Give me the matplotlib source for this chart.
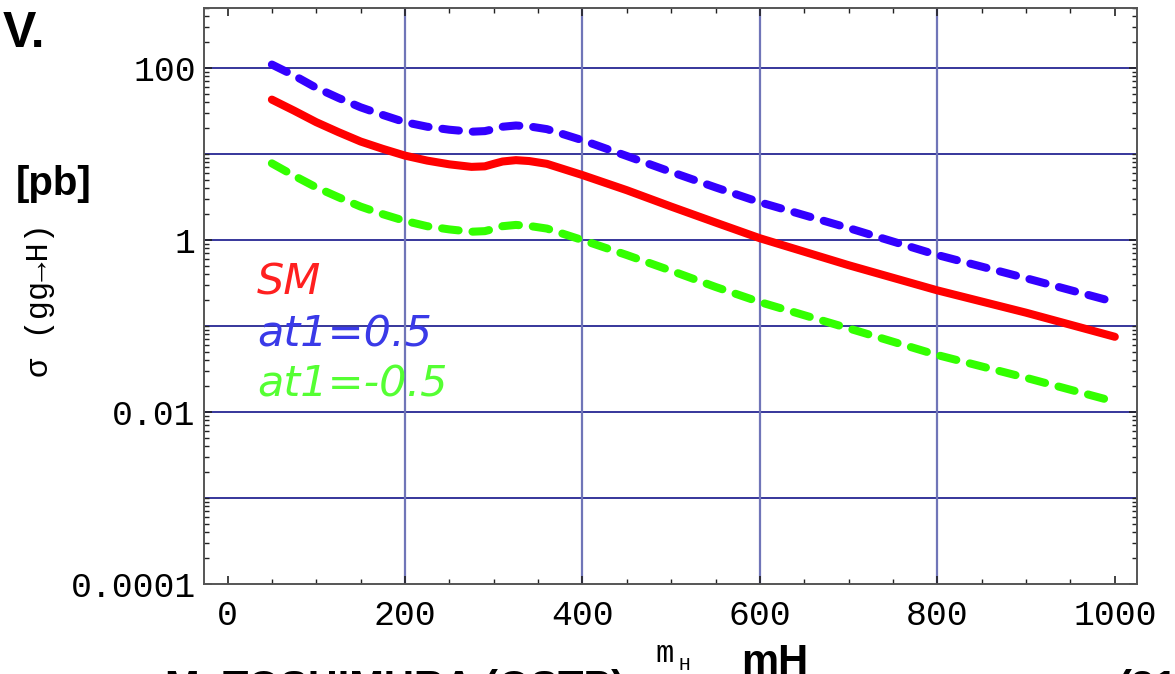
import matplotlib
matplotlib.use("Agg")
import matplotlib.pyplot as plt
from matplotlib.ticker import FixedLocator, FixedFormatter, LogLocator, NullFormatter

# m_H [GeV]
mh = [50, 75, 100, 125, 150, 175, 200, 225, 250, 275, 290, 300, 310, 325, 340, 360,
      400, 450, 500, 550, 600, 700, 800, 900, 1000]
# sigma(gg->H) [pb]
sig_sm = [43, 32, 23.5, 18, 14, 11.5, 9.6, 8.4, 7.6, 7.1, 7.2, 7.7, 8.2, 8.5, 8.3, 7.7,
          5.7, 3.8, 2.45, 1.6, 1.05, 0.51, 0.26, 0.143, 0.075]
sig_p05 = [110, 82, 59, 45, 35, 28.5, 23.5, 20.8, 19.2, 18.2, 18.5, 19.5, 20.8, 21.5, 21, 19.5,
           14.5, 9.5, 6.2, 4.1, 2.75, 1.38, 0.67, 0.36, 0.19]
sig_m05 = [7.8, 5.6, 4.1, 3.15, 2.45, 2.0, 1.67, 1.45, 1.33, 1.25, 1.27, 1.35, 1.45, 1.5, 1.46, 1.36,
           1.0, 0.67, 0.44, 0.285, 0.19, 0.094, 0.046, 0.025, 0.0132]

xticks = [0, 200, 400, 600, 800, 1000]
yticks = [1e-4, 1e-2, 1, 100]
ytick_labels = ["0.0001", "0.01", "1", "100"]
hgrid = [1e-3, 1e-2, 1e-1, 1, 10, 100]
vgrid = [200, 400, 600, 800]

plt.rcParams['lines.scale_dashes'] = False
mono = ['Liberation Mono', 'DejaVu Sans Mono']

fig = plt.figure(figsize=(11.75, 6.74), dpi=100)
ax = fig.add_axes([204/1175, 1-584/674, 933/1175, 576/674])
ax.set_yscale('log')
ax.set_xlim(-26.5, 1025)
ax.set_ylim(1e-4, 500)

for g in hgrid:
    ax.axhline(g, color='#000080', lw=1.1, zorder=1)
for g in vgrid:
    ax.axvline(g, color='#7075b8', lw=1.6, zorder=1)

ax.plot(mh, sig_p05, color='#3300ff', lw=5.8, dashes=(12, 10),
        dash_capstyle='round', solid_capstyle='round', zorder=3)
ax.plot(mh, sig_sm, color='#ff0000', lw=5.8, solid_capstyle='round',
        solid_joinstyle='round', zorder=4)
ax.plot(mh, sig_m05, color='#33ff00', lw=5.8, dashes=(12, 10),
        dash_capstyle='round', solid_capstyle='round', zorder=3)

# labels for curves
lab_kw = dict(transform=ax.transAxes, fontsize=31, style='italic',
              family='DejaVu Sans', va='baseline', ha='left')
ax.text(0.057, 0.502, "SM", color='#ff2020', **lab_kw)
ax.text(0.057, 0.413, "at1=0.5", color='#3a3ae8', **lab_kw)
ax.text(0.057, 0.326, "at1=-0.5", color='#55ff33', **lab_kw)

# ticks
ax.xaxis.set_major_locator(FixedLocator(xticks))
ax.xaxis.set_minor_locator(FixedLocator(list(range(0, 1001, 50))))
ax.yaxis.set_major_locator(FixedLocator(yticks))
ax.yaxis.set_major_formatter(FixedFormatter(ytick_labels))
ax.yaxis.set_minor_locator(LogLocator(base=10, subs=list(range(1, 10)), numticks=20))
ax.yaxis.set_minor_formatter(NullFormatter())
ax.tick_params(which='both', direction='in', top=True, right=True, colors='#222222')
ax.tick_params(which='major', length=6, width=1.2)
ax.tick_params(which='minor', length=3.5, width=1.0)
ax.tick_params(axis='x', which='major', pad=11)
ax.tick_params(axis='y', which='major', pad=6)
for lab in ax.get_xticklabels() + ax.get_yticklabels():
    lab.set_family(mono)
    lab.set_fontsize(25)
    lab.set_color('black')
for sp in ax.spines.values():
    sp.set_color('#555555')
    sp.set_linewidth(1.4)

# outer texts
fig.text(3/1175, 1-47/674, "V.", fontsize=36, fontweight='bold', family='Liberation Sans')
fig.text(16/1175, 1-195/674, "[pb]", fontsize=29, fontweight='bold', family='Liberation Sans')
fig.text(40/1175, 1-300/674, "σ (gg→H)", fontsize=23, family=mono,
         rotation=90, ha='center', va='center')
fig.text(741/1175, 1-674/674, "mH", fontsize=30, fontweight='bold', family='Liberation Sans')
fig.text(655/1175, 1-662/674, "m", fontsize=22, family=mono)
fig.text(678/1175, 1-670/674, "H", fontsize=14, family=mono)
fig.text(165/1175, 1-700/674, "M. TOSHIMURA (OSTP)", fontsize=30, fontweight='bold',
         family='Liberation Sans')
fig.text(1118/1175, 1-700/674, "(31)", fontsize=30, fontweight='bold',
         family='Liberation Sans')

fig.savefig("out.png", dpi=100)
